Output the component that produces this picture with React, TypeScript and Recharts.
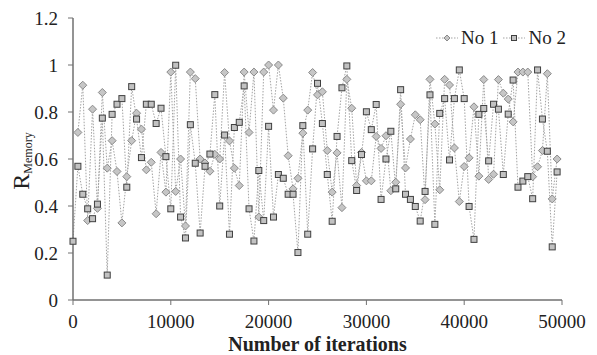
import React from 'react';
import { LineChart, Line, XAxis, YAxis } from 'recharts';

const FONT = '"Liberation Serif", "Times New Roman", Times, serif';

const iterations = [
  0, 500, 1000, 1500, 2000, 2500, 3000, 3500, 4000, 4500,
  5000, 5500, 6000, 6500, 7000, 7500, 8000, 8500, 9000, 9500,
  10000, 10500, 11000, 11500, 12000, 12500, 13000, 13500, 14000, 14500,
  15000, 15500, 16000, 16500, 17000, 17500, 18000, 18500, 19000, 19500,
  20000, 20500, 21000, 21500, 22000, 22500, 23000, 23500, 24000, 24500,
  25000, 25500, 26000, 26500, 27000, 27500, 28000, 28500, 29000, 29500,
  30000, 30500, 31000, 31500, 32000, 32500, 33000, 33500, 34000, 34500,
  35000, 35500, 36000, 36500, 37000, 37500, 38000, 38500, 39000, 39500,
  40000, 40500, 41000, 41500, 42000, 42500, 43000, 43500, 44000, 44500,
  45000, 45500, 46000, 46500, 47000, 47500, 48000, 48500, 49000, 49500,
];

const no1 = [
  null, 0.713, 0.914, 0.338, 0.812, 0.39, 0.883, 0.561, 0.678, 0.547,
  0.328, 0.525, 0.678, 0.795, 0.727, 0.554, 0.586, 0.367, 0.628, 0.459,
  0.97, 0.462, 0.6, 0.315, 0.97, 0.942, 0.6, 0.583, 0.548, 0.62,
  0.6, 0.968, 0.677, 0.561, 0.487, 0.97, 0.713, 0.97, 0.353, 0.97,
  1.0, 0.808, 1.0, 0.859, 0.614, 0.473, 0.518, 0.71, 0.808, 0.968,
  0.873, 0.886, 0.636, 0.459, 0.626, 0.393, 0.939, 0.816, 0.487, 0.628,
  0.507, 0.507, 0.696, 0.645, 0.699, 0.465, 0.501, 0.833, 0.562, 0.685,
  0.788, 0.767, 0.427, 0.939, 0.749, 0.469, 0.939, 0.915, 0.647, 0.419,
  0.568, 0.605, 0.822, 0.527, 0.938, 0.513, 0.535, 0.938, 0.88, 0.855,
  0.758, 0.97, 0.97, 0.97, 0.525, 0.567, 0.636, 0.963, 0.43, 0.6,
];

const no2 = [
  0.25, 0.569, 0.45, 0.388, 0.346, 0.408, 0.774, 0.106, 0.79, 0.833,
  0.857, 0.48, 0.908, 0.77, 0.606, 0.833, 0.833, 0.751, 0.816, 0.61,
  0.388, 0.999, 0.353, 0.264, 0.746, 0.582, 0.285, 0.569, 0.621, 0.874,
  0.4, 0.702, 0.28, 0.734, 0.756, 0.911, 0.388, 0.251, 0.551, 0.338,
  0.739, 0.353, 0.534, 0.518, 0.45, 0.45, 0.202, 0.742, 0.28, 0.643,
  0.922, 0.751, 0.534, 0.335, 0.696, 0.903, 0.996, 0.593, 0.466, 0.619,
  0.801, 0.725, 0.832, 0.428, 0.6, 0.718, 0.473, 0.895, 0.45, 0.428,
  0.398, 0.336, 0.462, 0.873, 0.322, 0.794, 0.857, 0.596, 0.857, 0.979,
  0.857, 0.398, 0.258, 0.79, 0.815, 0.592, 0.833, 0.812, 0.534, 0.791,
  0.936, 0.48, 0.506, 0.525, 0.431, 0.979, 0.77, 0.633, 0.226, 0.545,
];

const xTicks = [0, 10000, 20000, 30000, 40000, 50000];
const yTicks = [0, 0.2, 0.4, 0.6, 0.8, 1, 1.2];
const seriesNames = ['No 1', 'No 2'];

const data = iterations.map((it, i) => ({ it, no1: no1[i], no2: no2[i] }));

const LINE_COLOR = '#a3a3a3';
const AXIS_COLOR = '#707070';
const TEXT_COLOR = '#222222';

const Diamond = (props: any) => {
  const { cx, cy, value, index } = props;
  if (cx == null || cy == null || value == null) return <g key={`d-${index}`} />;
  const r = 4;
  return (
    <polygon
      key={`d-${index}`}
      points={`${cx},${cy - r} ${cx + r},${cy} ${cx},${cy + r} ${cx - r},${cy}`}
      fill="#c6c6c6"
      stroke="#8a8a8a"
      strokeWidth={1}
    />
  );
};

const Square = (props: any) => {
  const { cx, cy, value, index } = props;
  if (cx == null || cy == null || value == null) return <g key={`s-${index}`} />;
  const h = 3;
  return (
    <rect
      key={`s-${index}`}
      x={cx - h}
      y={cy - h}
      width={h * 2}
      height={h * 2}
      fill="#c2c2c2"
      stroke="#404040"
      strokeWidth={1}
    />
  );
};

const XTick = (props: any) => {
  const { x, y, payload } = props;
  return (
    <text x={x} y={y} dy="0.71em" textAnchor="middle" fontFamily={FONT} fontSize={19} fill={TEXT_COLOR}>
      {String(payload.value)}
    </text>
  );
};

const fmt = (v: number) => (Math.round(v * 10) / 10).toString();

const YTick = (props: any) => {
  const { x, y, payload } = props;
  return (
    <text x={x} y={y} dy="0.355em" textAnchor="end" fontFamily={FONT} fontSize={19} fill={TEXT_COLOR}>
      {fmt(payload.value)}
    </text>
  );
};

const LegendBox = () => (
  <div
    style={{
      position: 'absolute',
      left: 428,
      top: 20,
      display: 'flex',
      alignItems: 'center',
      fontFamily: FONT,
      fontSize: 19,
      lineHeight: '20px',
      color: TEXT_COLOR,
      whiteSpace: 'nowrap',
    }}
  >
    <svg width={22} height={10} style={{ display: 'block' }}>
      <line x1={0} y1={5} x2={22} y2={5} stroke={LINE_COLOR} strokeDasharray="1.5 1.5" />
      <polygon points="11,2 14,5 11,8 8,5" fill="#c6c6c6" stroke="#8a8a8a" strokeWidth={1} />
    </svg>
    <span style={{ marginLeft: 3, marginRight: 5 }}>{seriesNames[0]}</span>
    <svg width={22} height={10} style={{ display: 'block' }}>
      <line x1={0} y1={5} x2={22} y2={5} stroke={LINE_COLOR} strokeDasharray="1.5 1.5" />
      <rect x={8.5} y={2.5} width={5} height={5} fill="#c2c2c2" stroke="#404040" strokeWidth={1} />
    </svg>
    <span style={{ marginLeft: 3 }}>{seriesNames[1]}</span>
  </div>
);

const YLabel = (props: any) => {
  const vb = props.viewBox || { x: 0, y: 10, width: 65, height: 282 };
  const x = vb.x + 21;
  const y = vb.y + vb.height / 2 + 2;
  return (
    <text transform={`translate(${x},${y}) rotate(-90)`} textAnchor="middle" fontFamily={FONT} fill={TEXT_COLOR}>
      <tspan fontSize={24}>R</tspan>
      <tspan fontSize={12} dy={3}>Memory</tspan>
    </text>
  );
};

const XLabel = (props: any) => {
  const vb = props.viewBox || { x: 65, y: 292, width: 489, height: 55 };
  return (
    <text
      x={vb.x + vb.width / 2}
      y={vb.y + vb.height - 4}
      textAnchor="middle"
      fontFamily={FONT}
      fontSize={20}
      fontWeight="bold"
      fill={TEXT_COLOR}
    >
      Number of iterations
    </text>
  );
};

export default function App() {
  return (
    <div style={{ width: 589, height: 347, position: 'relative', fontFamily: FONT }}>
      <LineChart width={589} height={347} data={data} margin={{ top: 10, right: 35, left: 0, bottom: 0 }}>
        <XAxis
          type="number"
          dataKey="it"
          domain={[0, 50000]}
          ticks={xTicks}
          interval={0}
          height={55}
          tickSize={5}
          tickMargin={10}
          axisLine={{ stroke: AXIS_COLOR, strokeWidth: 1.5 }}
          tickLine={{ stroke: AXIS_COLOR }}
          tick={<XTick />}
          label={<XLabel />}
        />
        <YAxis
          type="number"
          domain={[0, 1.2]}
          ticks={yTicks}
          interval={0}
          width={65}
          tickSize={5}
          tickMargin={10}
          axisLine={{ stroke: AXIS_COLOR, strokeWidth: 1.5 }}
          tickLine={{ stroke: AXIS_COLOR }}
          tick={<YTick />}
          label={<YLabel />}
        />
        <Line
          type="linear"
          dataKey="no1"
          name={seriesNames[0]}
          stroke={LINE_COLOR}
          strokeWidth={1}
          strokeDasharray="1.5 1.5"
          dot={(p: any) => <Diamond key={`d-${p.index}`} {...p} />}
          activeDot={false}
          connectNulls
          isAnimationActive={false}
        />
        <Line
          type="linear"
          dataKey="no2"
          name={seriesNames[1]}
          stroke={LINE_COLOR}
          strokeWidth={1}
          strokeDasharray="1.5 1.5"
          dot={(p: any) => <Square key={`s-${p.index}`} {...p} />}
          activeDot={false}
          connectNulls
          isAnimationActive={false}
        />
      </LineChart>
      <LegendBox />
    </div>
  );
}
